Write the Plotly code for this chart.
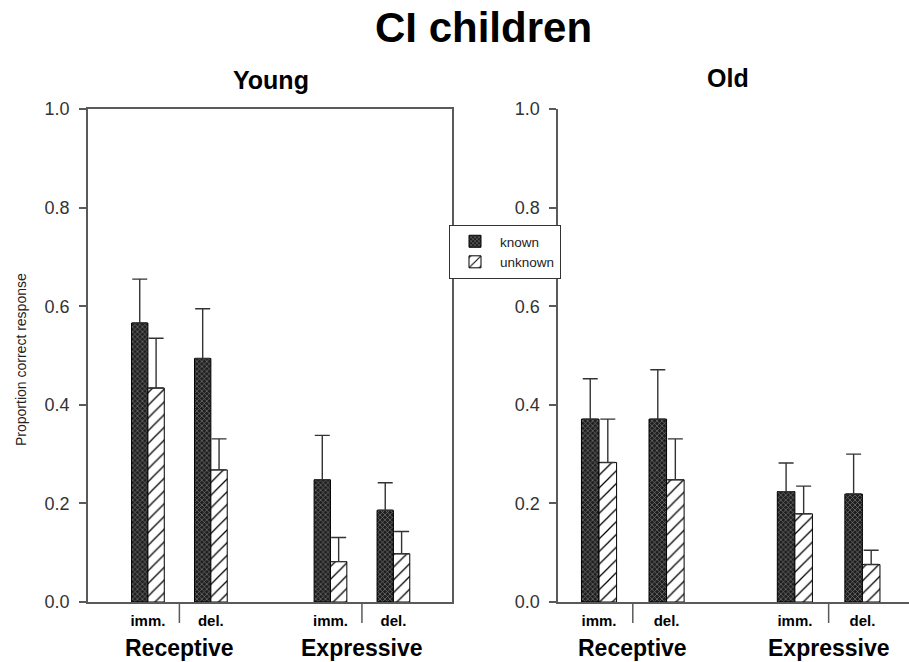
import plotly.graph_objects as go

# ---- data ----
conditions = ["imm.", "del.", "imm.", "del."]
positions = [1.0, 2.0, 3.9, 4.9]
modalities = ["Receptive", "Expressive"]

young_known = [0.566, 0.494, 0.248, 0.186]
young_known_err = [0.089, 0.101, 0.090, 0.056]
young_unknown = [0.434, 0.268, 0.082, 0.098]
young_unknown_err = [0.101, 0.063, 0.049, 0.045]

old_known = [0.371, 0.371, 0.224, 0.219]
old_known_err = [0.082, 0.100, 0.058, 0.081]
old_unknown = [0.283, 0.248, 0.179, 0.076]
old_unknown_err = [0.088, 0.083, 0.056, 0.029]

y_ticks = [0.0, 0.2, 0.4, 0.6, 0.8, 1.0]

# ---- style ----
FONT = "Arial, Liberation Sans, Helvetica, sans-serif"
BAR_W = 0.26
AXIS_COL = "#5a5a5a"
known_marker = dict(color="#1e1e1e", line=dict(color="black", width=1),
                    pattern=dict(shape="x", fgcolor="#7a7a7a", bgcolor="#1e1e1e",
                                 size=3.5, solidity=0.35, fillmode="replace"))
unknown_marker = dict(color="white", line=dict(color="black", width=1),
                      pattern=dict(shape="/", fgcolor="black", bgcolor="white",
                                   size=9, solidity=0.14, fillmode="replace"))


def err(vals):
    return dict(type="data", array=vals, arrayminus=[0] * len(vals), symmetric=False,
                color="#333333", thickness=1.4, width=7.5)


fig = go.Figure()
panels = [("x", "y", young_known, young_known_err, young_unknown, young_unknown_err, True),
          ("x2", "y2", old_known, old_known_err, old_unknown, old_unknown_err, False)]
for xa, ya, kn, kne, un, une, leg in panels:
    fig.add_trace(go.Bar(x=positions, y=kn, width=BAR_W, offset=-BAR_W, marker=known_marker,
                         error_y=err(kne), name="known", legendgroup="known",
                         showlegend=leg, xaxis=xa, yaxis=ya))
    fig.add_trace(go.Bar(x=positions, y=un, width=BAR_W, offset=0, marker=unknown_marker,
                         error_y=err(une), name="unknown", legendgroup="unknown",
                         showlegend=leg, xaxis=xa, yaxis=ya))

YDOM = [0.0906, 0.8353]
xcommon = dict(tickmode="array", tickvals=positions,
               ticktext=["<b>%s</b>" % c for c in conditions],
               ticks="", showgrid=False, zeroline=False, showline=True,
               linecolor=AXIS_COL, linewidth=1.5,
               tickfont=dict(family=FONT, size=15, color="black"),
               ticklabelstandoff=4)
ycommon = dict(range=[0, 1], tickmode="array", tickvals=y_ticks,
               ticktext=["%.1f" % v for v in y_ticks],
               ticks="outside", ticklen=7, tickcolor=AXIS_COL, tickwidth=1.5,
               showgrid=False, zeroline=False, showline=True,
               linecolor=AXIS_COL, linewidth=1.5,
               tickfont=dict(family=FONT, size=18, color="#333333"),
               ticklabelstandoff=6)

fig.update_layout(
    width=909, height=662,
    margin=dict(l=0, r=0, t=0, b=0, autoexpand=False),
    paper_bgcolor="white", plot_bgcolor="white",
    barmode="overlay",
    xaxis=dict(domain=[0.0968, 0.4972], range=[0.048, 5.83], mirror=True, anchor="y", **xcommon),
    yaxis=dict(domain=YDOM, mirror=True, anchor="x", **ycommon),
    xaxis2=dict(domain=[0.6139, 1.0], range=[0.393, 5.59], anchor="y2", **xcommon),
    yaxis2=dict(domain=YDOM, anchor="x2", **ycommon),
    legend=dict(x=449 / 909, y=1 - 225 / 662, xanchor="left", yanchor="top",
                bgcolor="white", bordercolor="#333333", borderwidth=1,
                font=dict(family=FONT, size=13.5, color="#222222"),
                tracegroupgap=0, itemwidth=40),
    font=dict(family=FONT),
)

# separators between imm./del. and modality labels
annotations = []
shapes = []
for xa in ["x", "x2"]:
    for i, mod in enumerate(modalities):
        sep = (positions[2 * i] + positions[2 * i + 1]) / 2
        shapes.append(dict(type="line", xref=xa, yref="paper", x0=sep, x1=sep,
                           y0=YDOM[0], y1=YDOM[0] - 21 / 662,
                           line=dict(color=AXIS_COL, width=1.5)))
        annotations.append(dict(text="<b>%s</b>" % mod, xref=xa, yref="paper", x=sep,
                                y=(662 - 648) / 662, showarrow=False, xanchor="center",
                                yanchor="middle",
                                font=dict(family=FONT, size=23, color="black")))

annotations += [
    dict(text="<b>CI children</b>", xref="paper", yref="paper", x=484 / 909, y=1 - 28 / 662,
         showarrow=False, xanchor="center", yanchor="middle",
         font=dict(family=FONT, size=42, color="black")),
    dict(text="<b>Young</b>", xref="paper", yref="paper", x=271 / 909, y=1 - 80 / 662,
         showarrow=False, xanchor="center", yanchor="middle",
         font=dict(family=FONT, size=25, color="black")),
    dict(text="<b>Old</b>", xref="paper", yref="paper", x=728 / 909, y=1 - 78 / 662,
         showarrow=False, xanchor="center", yanchor="middle",
         font=dict(family=FONT, size=25, color="black")),
    dict(text="Proportion correct response", xref="paper", yref="paper", x=21 / 909,
         y=1 - 360 / 662, showarrow=False, textangle=-90, xanchor="center", yanchor="middle",
         font=dict(family=FONT, size=14, color="#222222")),
]
fig.update_layout(annotations=annotations, shapes=shapes)

fig.write_html("out.html", config={"displayModeBar": False},
               post_script="document.body.style.margin='0px';")
